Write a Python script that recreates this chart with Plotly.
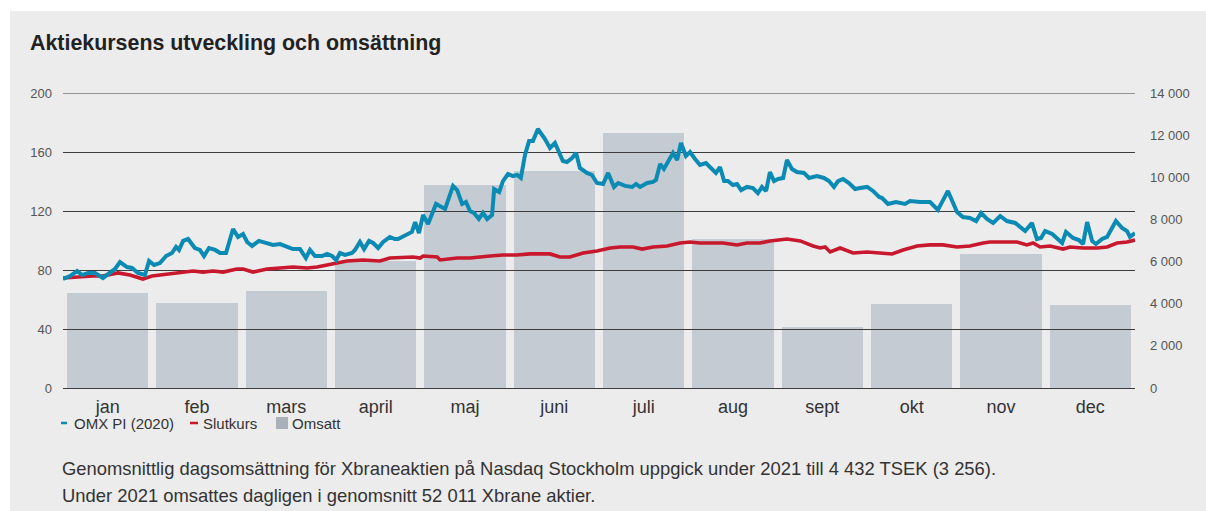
import plotly.graph_objects as go

# ---------------- data ----------------
months = ["jan", "feb", "mars", "april", "maj", "juni", "juli", "aug", "sept", "okt", "nov", "dec"]
omsatt_tsek = [4510, 4030, 4600, 6030, 9630, 10300, 12100, 7070, 2900, 3990, 6360, 3940]

omx_day = [0, 2.4, 4.8, 6.5, 8.5, 10.9, 13.6, 16.0, 17.7, 19.4, 21.8, 23.5, 25.5, 27.9, 29.3, 31.0, 33.0,
           35.1, 37.1, 38.5, 39.5, 40.9, 42.6, 44.9, 46.6, 48.0, 49.7, 51.8, 53.5, 55.5, 56.9, 57.9, 59.6,
           61.3, 62.7, 64.4, 66.7, 69.5, 71.5, 73.9, 76.3, 78.3, 80.7, 82.7, 84.1, 85.8, 88.2, 89.9, 91.6,
           93.0, 94.3, 96.0, 98.4, 99.4, 101.1, 102.5, 104.2, 105.6, 107.3, 109.0, 111.3, 113.0, 114.1,
           116.5, 118.8, 119.9, 121.2, 122.6, 124.3, 127.0, 128.4, 130.1, 132.8, 134.2, 135.9, 137.2,
           138.6, 139.9, 141.6, 143.0, 144.4, 146.1, 146.8, 148.5, 149.8, 151.5, 153.2, 154.6, 155.9,
           157.3, 158.7, 160.0, 161.7, 164.1, 165.8, 167.5, 170.2, 171.6, 173.3, 174.7, 176.0, 178.4,
           180.1, 181.8, 183.9, 185.6, 187.6, 189.0, 191.4, 193.8, 195.1, 196.5, 198.9, 200.9, 201.9,
           203.3, 204.6, 206.3, 207.7, 209.1, 210.4, 212.1, 213.5, 215.2, 216.9, 218.9, 220.6, 222.3,
           223.7, 225.1, 226.4, 228.1, 229.5, 230.9, 232.9, 234.9, 236.6, 238.0, 239.4, 240.7, 242.1,
           243.5, 245.2, 246.5, 248.2, 249.9, 252.3, 254.0, 256.7, 259.1, 260.8, 262.5, 263.9, 265.6,
           267.6, 269.7, 271.4, 273.8, 275.8, 277.9, 278.9, 280.9, 283.6, 286.7, 288.4, 291.8, 295.2,
           297.9, 301.3, 304.4, 306.4, 308.8, 310.9, 312.6, 314.6, 316.7, 319.1, 321.4, 324.2, 327.6,
           329.9, 331.6, 333.0, 334.4, 336.8, 340.2, 341.5, 343.9, 345.9, 347.3, 348.7, 350.4, 351.7,
           353.8, 355.5, 358.5, 360.6, 362.3, 363.3, 365.0]
omx_value = [73.9, 75.9, 79.3, 76.6, 78.0, 78.0, 74.6, 78.6, 80.7, 85.4, 82.0, 81.4, 78.0, 76.6, 86.1, 83.4, 84.7,
             89.5, 91.5, 95.6, 93.6, 99.7, 101.0, 94.9, 93.6, 89.5, 94.9, 93.6, 91.5, 91.5, 100.3, 107.8, 102.4,
             104.4, 99.0, 96.3, 99.7, 98.3, 97.0, 97.6, 95.6, 94.2, 94.2, 88.1, 93.6, 89.5, 89.5, 90.9, 89.5,
             86.8, 91.5, 90.2, 91.5, 93.6, 99.0, 94.2, 99.7, 98.3, 94.9, 99.0, 102.4, 101.0, 101.0,
             103.7, 105.8, 112.5, 105.1, 117.3, 111.2, 124.8, 123.4, 121.4, 137.0, 134.2, 124.8, 126.1,
             120.0, 118.7, 114.6, 118.7, 114.6, 117.3, 134.9, 132.9, 140.3, 145.1, 143.7, 144.4, 142.4,
             158.0, 167.5, 167.5, 175.6, 168.8, 162.7, 166.1, 153.9, 153.2, 155.9, 159.3, 149.2, 145.8,
             144.4, 139.0, 138.3, 145.8, 136.3, 139.0, 137.0, 136.3, 138.3, 136.3, 139.0, 139.7, 141.0,
             151.9, 148.5, 153.9, 159.3, 154.6, 166.1, 157.3, 160.0, 155.3, 151.2, 152.5, 149.2, 145.8,
             149.8, 140.3, 140.3, 137.6, 138.3, 134.2, 136.3, 135.6, 132.2, 136.3, 133.6, 146.4, 140.3,
             141.7, 142.4, 154.6, 148.5, 146.4, 145.8, 142.4, 143.7, 142.4, 140.3, 136.3, 140.3, 141.7,
             139.0, 134.9, 135.6, 136.3, 133.6, 129.5, 128.8, 124.8, 126.1, 124.8, 126.8, 126.1, 126.1,
             120.7, 133.6, 119.3, 115.9, 115.3, 113.2, 118.7, 114.6, 111.9, 116.6, 113.2, 111.9, 106.4,
             111.9, 101.0, 101.7, 106.4, 104.4, 98.3, 105.8, 101.7, 100.3, 97.6, 112.5, 99.7, 97.6,
             101.0, 102.4, 113.2, 108.5, 106.4, 102.4, 105.1]

slut_day = [0, 4.8, 10.2, 13.6, 18.7, 22.8, 27.2, 30.3, 35.4, 39.8, 44.3, 47.7, 51.1, 54.5, 59.2, 61.3, 64.7,
            69.5, 73.9, 78.3, 83.1, 86.5, 89.9, 94.3, 96.7, 102.1, 107.9, 111.3, 119.2, 121.6, 122.6, 127.4,
            128.4, 134.2, 138.6, 145.4, 149.8, 154.6, 159.0, 165.8, 169.2, 172.6, 177.1, 181.8, 186.3, 189.7,
            194.1, 197.2, 200.9, 205.7, 210.1, 213.5, 216.9, 221.3, 224.7, 229.5, 232.9, 237.3, 240.7, 246.5,
            251.0, 255.4, 257.8, 259.5, 261.2, 264.6, 269.0, 273.8, 278.2, 282.3, 286.0, 290.8, 295.2, 299.6,
            304.4, 308.8, 313.3, 315.6, 320.1, 324.8, 328.2, 330.3, 332.7, 336.1, 340.5, 342.9, 347.3, 352.1,
            355.5, 358.9, 362.3, 365.0]
slut_value = [74.6, 75.3, 75.9, 75.9, 78.0, 76.6, 73.9, 75.9, 77.3, 78.0, 79.3, 78.6, 79.3, 78.6, 80.7, 80.7, 78.6,
              80.7, 81.4, 82.0, 81.4, 82.0, 83.4, 85.4, 86.1, 86.8, 86.1, 88.1, 88.8, 88.1, 89.5, 88.8,
              86.8, 88.1, 88.1, 89.5, 90.2, 90.2, 90.9, 90.9, 88.8, 88.8, 91.5, 92.9, 94.9, 95.6,
              95.6, 94.2, 95.6, 96.3, 98.3, 99.0, 98.3, 98.3, 98.3, 97.0, 98.3, 98.3, 99.7, 101.0,
              99.7, 96.3, 94.9, 95.6, 92.2, 94.9, 91.5, 92.2, 91.5, 90.9, 93.6, 96.3, 97.0, 97.0,
              95.6, 96.3, 98.3, 99.0, 99.0, 99.0, 97.0, 98.3, 95.6, 96.3, 94.2, 95.6, 94.9, 94.9,
              95.6, 98.3, 99.0, 100.3]

left_ticks = [0, 40, 80, 120, 160, 200]
right_ticks = [0, 2000, 4000, 6000, 8000, 10000, 12000, 14000]
right_ticktext = ["0", "2 000", "4 000", "6 000", "8 000", "10 000", "12 000", "14 000"]

title_text = "Aktiekursens utveckling och omsättning"
footer_1 = "Genomsnittlig dagsomsättning för Xbraneaktien på Nasdaq Stockholm uppgick under 2021 till 4 432 TSEK (3 256)."
footer_2 = "Under 2021 omsattes dagligen i genomsnitt 52 011 Xbrane aktier."

# ---------------- styling ----------------
BG = "#ececec"
BAR = "#c4cbd3"
BLUE = "#0b8ab4"
RED = "#c8182d"
GRID = "#3c3c3c"
FONT = "Liberation Sans, Arial, sans-serif"

YEAR = 365.0
month_w = YEAR / len(months)
month_centers = [(i + 0.5) * month_w for i in range(len(months))]

fig = go.Figure()

fig.add_trace(go.Bar(x=month_centers, y=omsatt_tsek, width=month_w * 0.91, marker_color=BAR,
                     marker_line_width=0, name="Omsatt", xaxis="x", yaxis="y", showlegend=False))
fig.add_trace(go.Scatter(x=slut_day, y=slut_value, mode="lines", line=dict(color=RED, width=3.6),
                         name="Slutkurs", xaxis="x2", yaxis="y2", showlegend=False))
fig.add_trace(go.Scatter(x=omx_day, y=omx_value, mode="lines", line=dict(color=BLUE, width=4),
                         name="OMX PI (2020)", xaxis="x2", yaxis="y2", showlegend=False))

L, R, T, B = 63, 71, 93, 123
W, H = 1206, 511
pw, ph = W - L - R, H - T - B


def px(xp):
    return (xp - L) / pw


def py(yp):
    return (H - B - yp) / ph


legend_y = py(423)
shapes = [
    # white outer margin (left and top) around the grey panel
    dict(type="rect", xref="paper", yref="paper", x0=px(0), x1=px(10), y0=py(H), y1=py(0),
         fillcolor="white", line_width=0, layer="below"),
    dict(type="rect", xref="paper", yref="paper", x0=px(0), x1=px(W), y0=py(11), y1=py(0),
         fillcolor="white", line_width=0, layer="below"),
    # top gridline (at the range edge, which plotly does not draw itself)
    dict(type="line", xref="x2", yref="y2", x0=0, x1=YEAR, y0=left_ticks[-1], y1=left_ticks[-1],
         line=dict(color=GRID, width=1), layer="below"),
    # legend symbols
    dict(type="line", xref="paper", yref="paper", x0=px(61), x1=px(67), y0=legend_y, y1=legend_y,
         line=dict(color=BLUE, width=2.5)),
    dict(type="line", xref="paper", yref="paper", x0=px(190), x1=px(198), y0=legend_y, y1=legend_y,
         line=dict(color=RED, width=2.5)),
    dict(type="rect", xref="paper", yref="paper", x0=px(276), x1=px(288), y0=py(429), y1=py(417),
         fillcolor="#a9b0ba", line_width=0),
]

fig.update_layout(
    width=W, height=H,
    margin=dict(l=L, r=R, t=T, b=B),
    paper_bgcolor=BG,
    plot_bgcolor="rgba(0,0,0,0)",
    font=dict(family=FONT, color="#333333"),
    bargap=0,
    xaxis=dict(range=[0, YEAR], tickmode="array", tickvals=month_centers, ticktext=months,
               showgrid=False, zeroline=False, showline=False, ticks="",
               tickfont=dict(size=18, color="#333333"), ticklabelstandoff=6, fixedrange=True),
    yaxis=dict(range=[0, 14000], side="right", tickmode="array", tickvals=right_ticks,
               ticktext=right_ticktext, showgrid=False, zeroline=False, showline=False, ticks="",
               tickfont=dict(size=13, color="#555555"), ticklabelstandoff=14, anchor="x"),
    xaxis2=dict(range=[0, YEAR], visible=False, anchor="y2", domain=[0, 1]),
    yaxis2=dict(range=[0, 200], side="left", tickmode="array", tickvals=left_ticks,
                showgrid=True, gridcolor=GRID, gridwidth=1, zeroline=True, zerolinecolor=GRID,
                zerolinewidth=1, showline=False, ticks="", anchor="x2", domain=[0, 1],
                tickfont=dict(size=13, color="#555555"), ticklabelstandoff=10),
    title=dict(text=title_text, x=30 / W, xanchor="left", xref="container",
               y=1 - 43 / H, yanchor="middle", yref="container",
               font=dict(size=21.4, color="#222222", family=FONT, weight="bold")),
    shapes=shapes,
    annotations=[
        dict(text="OMX PI (2020)", x=px(72), y=legend_y, xref="paper", yref="paper", xanchor="left",
             yanchor="middle", showarrow=False, font=dict(size=15, color="#333333")),
        dict(text="Slutkurs", x=px(201), y=legend_y, xref="paper", yref="paper", xanchor="left",
             yanchor="middle", showarrow=False, font=dict(size=15, color="#333333")),
        dict(text="Omsatt", x=px(290), y=legend_y, xref="paper", yref="paper", xanchor="left",
             yanchor="middle", showarrow=False, font=dict(size=15, color="#333333")),
        dict(text=footer_1, x=px(60), y=py(468), xref="paper", yref="paper", xanchor="left",
             yanchor="middle", showarrow=False, font=dict(size=18.4, color="#333333")),
        dict(text=footer_2, x=px(60), y=py(495), xref="paper", yref="paper", xanchor="left",
             yanchor="middle", showarrow=False, font=dict(size=18.4, color="#333333")),
    ],
)

fig.write_html("out.html", config={"displayModeBar": False},
               post_script="document.body.style.margin='0';document.body.style.overflow='hidden';")
